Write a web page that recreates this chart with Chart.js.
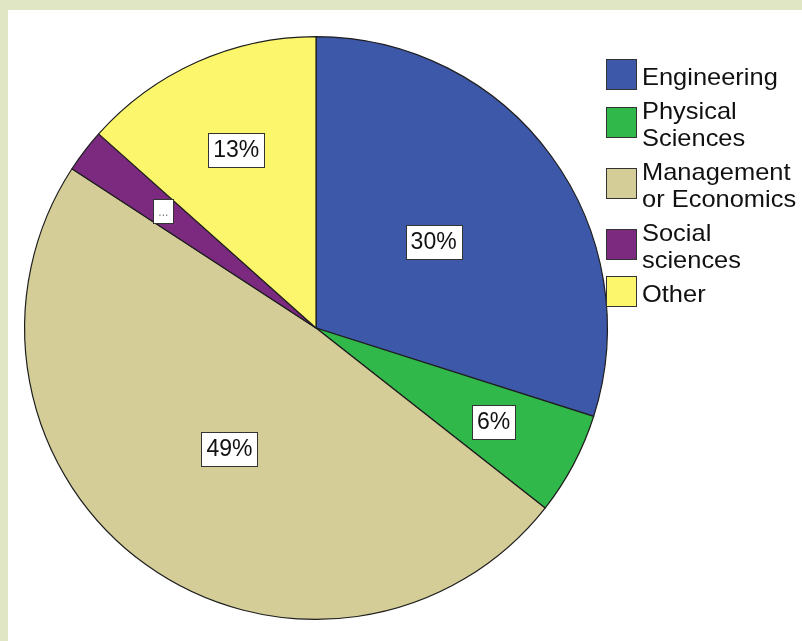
<!DOCTYPE html>
<html>
<head>
<meta charset="utf-8">
<script src="https://cdn.jsdelivr.net/npm/chart.js@4/dist/chart.umd.min.js"></script>
<style>
  html, body { margin: 0; padding: 0; background: #ffffff; }
  #wrap { width: 802px; height: 641px; }
</style>
</head>
<body>
<div id="wrap"><canvas id="c" width="802" height="641"></canvas></div>
<script>
// ---- data ----
const categories = ['Engineering', 'Physical Sciences', 'Management or Economics', 'Social sciences', 'Other'];
const legendLines = [['Engineering'], ['Physical', 'Sciences'], ['Management', 'or Economics'], ['Social', 'sciences'], ['Other']];
const values = [29.9, 5.7, 48.6, 2.4, 13.4];
const sliceLabels = ['30%', '6%', '49%', '...', '13%'];

// ---- styles ----
const colors = ['#3d57a9', '#30b94a', '#d4cd97', '#7b2a80', '#fbf66c'];
const labelRadius = [0.5, 0.69, 0.51, 0.66, 0.67];
const FONT = '"Liberation Sans", Arial, sans-serif';

const framePlugin = {
  id: 'frame',
  beforeDraw(chart) {
    const ctx = chart.ctx;
    ctx.save();
    ctx.fillStyle = '#ffffff';
    ctx.fillRect(0, 0, chart.width, chart.height);
    ctx.fillStyle = '#e0e6c3';
    ctx.fillRect(0, 0, 8, chart.height);
    ctx.fillRect(0, 0, chart.width, 10);
    ctx.restore();
  }
};

const sliceLabelPlugin = {
  id: 'sliceLabels',
  afterDatasetsDraw(chart) {
    const ctx = chart.ctx;
    const meta = chart.getDatasetMeta(0);
    meta.data.forEach((arc, i) => {
      const p = arc.getProps(['x', 'y', 'startAngle', 'endAngle', 'outerRadius'], true);
      const mid = (p.startAngle + p.endAngle) / 2;
      const r = p.outerRadius * labelRadius[i];
      const cx = p.x + Math.cos(mid) * r;
      const cy = p.y + Math.sin(mid) * r;
      const txt = sliceLabels[i];
      ctx.save();
      const small = txt === '...';
      ctx.font = (small ? '12px ' : '23px ') + FONT;
      const tw = ctx.measureText(txt).width;
      const w = small ? 20 : Math.round(tw + 10);
      const h = small ? 24 : 34;
      ctx.fillStyle = '#ffffff';
      ctx.fillRect(Math.round(cx - w / 2) + 0.5, Math.round(cy - h / 2) + 0.5, w, h);
      ctx.strokeStyle = '#333333';
      ctx.lineWidth = 1;
      ctx.strokeRect(Math.round(cx - w / 2) + 0.5, Math.round(cy - h / 2) + 0.5, w, h);
      ctx.fillStyle = small ? '#777777' : '#111111';
      ctx.textAlign = 'center';
      ctx.textBaseline = 'middle';
      ctx.fillText(txt, cx, cy + (small ? 2 : 1));
      ctx.restore();
    });
  }
};

const legendPlugin = {
  id: 'customLegend',
  afterDraw(chart) {
    const ctx = chart.ctx;
    ctx.save();
    ctx.font = '24px ' + FONT;
    ctx.textBaseline = 'alphabetic';
    ctx.textAlign = 'left';
    let base = 85;
    const lineH = 27;
    legendLines.forEach((lines, i) => {
      const last = base + (lines.length - 1) * lineH;
      const sqC = (base + last) / 2 - 10.5;
      ctx.fillStyle = colors[i];
      ctx.fillRect(607, Math.round(sqC - 14.5), 29, 29);
      ctx.strokeStyle = '#333333';
      ctx.lineWidth = 1;
      ctx.strokeRect(606.5, Math.round(sqC - 14.5) - 0.5, 30, 30);
      ctx.fillStyle = '#111111';
      lines.forEach((ln, k) => {
        ctx.save();
        ctx.translate(642, base + k * lineH);
        ctx.scale(1.06, 1);
        ctx.fillText(ln, 0, 0);
        ctx.restore();
      });
      base = last + lineH + 7;
    });
    ctx.restore();
  }
};

new Chart(document.getElementById('c'), {
  type: 'pie',
  data: {
    labels: categories,
    datasets: [{
      data: values,
      backgroundColor: colors,
      borderColor: '#1e1e1e',
      borderWidth: 1.2
    }]
  },
  options: {
    responsive: false,
    animation: false,
    layout: { padding: { left: 24, top: 36, right: 194, bottom: 21 } },
    plugins: {
      legend: { display: false },
      tooltip: { enabled: false }
    }
  },
  plugins: [framePlugin, sliceLabelPlugin, legendPlugin]
});
</script>
</body>
</html>
